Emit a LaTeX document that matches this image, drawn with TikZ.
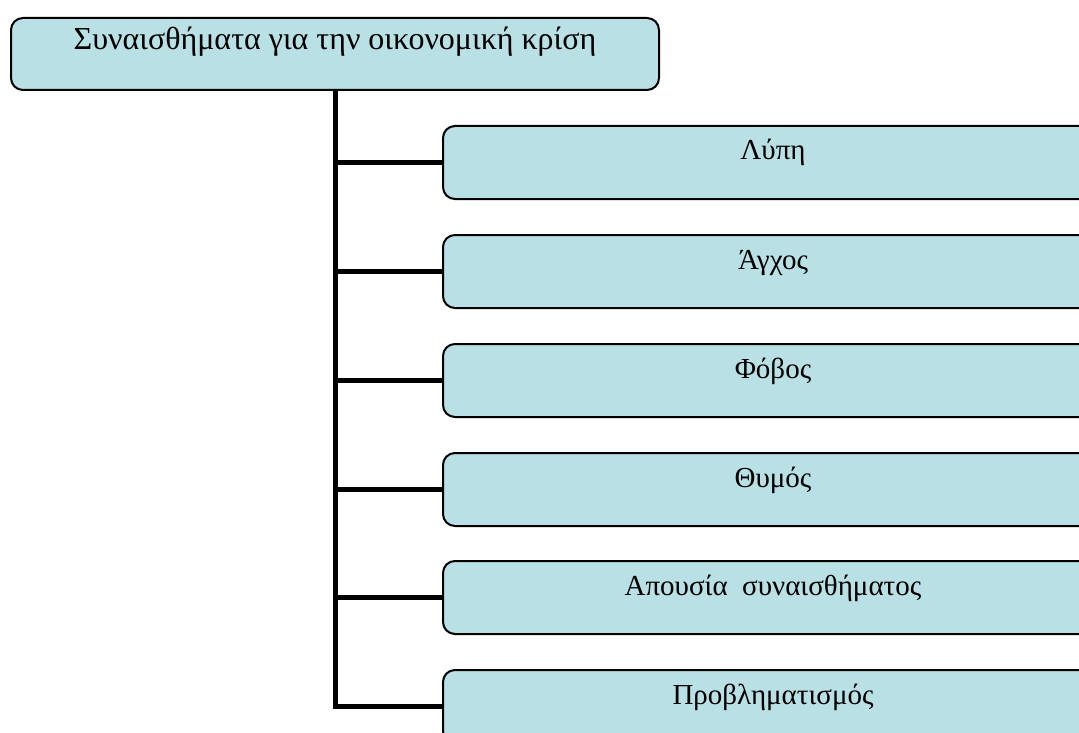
\documentclass[tikz,border=0pt]{standalone}
\usepackage{fontspec}
\setmainfont{Liberation Serif}
\definecolor{boxblue}{RGB}{185,224,228}

\begin{document}
\begin{tikzpicture}[x=1pt,y=-1pt]
\tikzstyle{feel}=[rectangle,draw=black,line width=2pt,fill=boxblue,rounded corners=12pt,inner xsep=0pt,inner ysep=0pt,font=\fontsize{29}{34}\selectfont,text height=34pt,text depth=39pt,minimum width=660pt,anchor=north west]
\tikzstyle{trunk}=[line width=5pt,black]
\useasboundingbox (0,0) rectangle (1079,733);
\clip (0,0) rectangle (1079,733);
\node[feel,minimum width=648pt,text height=32pt,text depth=40pt,font=\fontsize{32}{37}\selectfont](root) at (10,17) {Συναισθήματα για την οικονομική κρίση};
\node[feel](lypi) at (442,125) {Λύπη};
\node[feel](agxos) at (442,234) {Άγχος};
\node[feel](fovos) at (442,343) {Φόβος};
\node[feel](thymos) at (442,452) {Θυμός};
\node[feel](apousia) at (442,560) {Απουσία\ \ συναισθήματος};
\node[feel](provl) at (442,669) {Προβληματισμός};

\draw[trunk] (root.south) |- (provl.west);
\draw[trunk] (lypi.west) -- (lypi.west -| root.south);
\draw[trunk] (agxos.west) -- (agxos.west -| root.south);
\draw[trunk] (fovos.west) -- (fovos.west -| root.south);
\draw[trunk] (thymos.west) -- (thymos.west -| root.south);
\draw[trunk] (apousia.west) -- (apousia.west -| root.south);
\end{tikzpicture}
\end{document}
